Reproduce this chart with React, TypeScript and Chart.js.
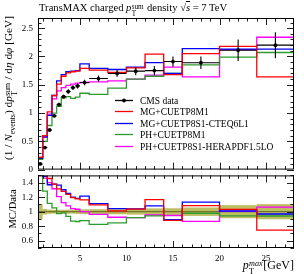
import React, { useEffect, useRef } from "react";
import { Chart, registerables } from "chart.js";

Chart.register(...registerables);

// ---------------- data ----------------
const binEdges = [0.5, 1, 1.5, 2, 2.5, 3, 3.5, 4, 4.5, 5, 6, 8, 10, 12, 14, 16, 20, 24, 28];
const cmsData = [0.10, 0.39, 0.70, 0.95, 1.15, 1.29, 1.38, 1.45, 1.48, 1.54, 1.61, 1.70, 1.74, 1.75, 1.91, 1.89, 2.11, 2.20];
const cmsErr = [0.01, 0.015, 0.02, 0.025, 0.03, 0.035, 0.04, 0.04, 0.045, 0.05, 0.055, 0.06, 0.07, 0.08, 0.09, 0.11, 0.19, 0.23];
const mgCUETP8M1 = [0.22, 0.60, 1.02, 1.31, 1.51, 1.65, 1.71, 1.73, 1.74, 1.79, 1.76, 1.72, 1.80, 2.04, 1.68, 2.05, 2.18, 1.64];
const mgCUETP8S1 = [0.20, 0.58, 0.96, 1.31, 1.57, 1.68, 1.73, 1.74, 1.75, 1.87, 1.79, 1.77, 1.81, 1.89, 1.70, 2.14, 2.13, 2.13];
const phCUETP8M1 = [0.18, 0.50, 0.78, 1.00, 1.12, 1.27, 1.29, 1.26, 1.28, 1.35, 1.33, 1.44, 1.60, 1.65, 1.70, 1.85, 1.99, 2.07];
const phCUETP8S1 = [0.21, 0.57, 0.98, 1.25, 1.39, 1.45, 1.49, 1.51, 1.53, 1.54, 1.55, 1.57, 1.60, 1.67, 1.81, 1.64, 2.12, 2.34];

const legendLabels = ["CMS data", "MG+CUETP8M1", "MG+CUETP8S1-CTEQ6L1", "PH+CUETP8M1", "PH+CUETP8S1-HERAPDF1.5LO"];
const xTickLabels = [5, 10, 15, 20, 25];
const mainYTickLabels = [0, 0.5, 1, 1.5, 2, 2.5];
const ratioYTickLabels = [0.6, 0.8, 1, 1.2, 1.4];

// ---------------- styles ----------------
const seriesColors = ["#000000", "#ff0000", "#0000ff", "#2e9a2e", "#ff00ff"];
const FONT = '"Liberation Serif", "DejaVu Serif", serif';
const X_MIN = 0.5, X_MAX = 28;
const Y_MAX = 2.68;

const mcSeries = [mgCUETP8M1, mgCUETP8S1, phCUETP8M1, phCUETP8S1];

function stepPoints(values: number[]) {
  const pts = values.map((v, i) => ({ x: binEdges[i], y: v }));
  pts.push({ x: binEdges[binEdges.length - 1], y: values[values.length - 1] });
  return pts;
}

function range(a: number, b: number, step: number) {
  const out: number[] = [];
  for (let v = a; v <= b + 1e-9; v += step) out.push(Math.round(v * 1000) / 1000);
  return out;
}

const frameTicksPlugin = {
  id: "frameTicks",
  afterDatasetsDraw(chart: any, _args: any, opts: any) {
    const { ctx, chartArea: a, scales } = chart;
    const xs = scales.x, ys = scales.y;
    ctx.save();
    ctx.strokeStyle = "#222";
    ctx.lineWidth = 1;
    const vx = (v: number, len: number) => {
      const px = Math.round(xs.getPixelForValue(v)) + 0.5;
      ctx.beginPath();
      ctx.moveTo(px, a.bottom); ctx.lineTo(px, a.bottom - len);
      ctx.moveTo(px, a.top); ctx.lineTo(px, a.top + len);
      ctx.stroke();
    };
    const vy = (v: number, len: number) => {
      const py = Math.round(ys.getPixelForValue(v)) + 0.5;
      ctx.beginPath();
      ctx.moveTo(a.left, py); ctx.lineTo(a.left + len, py);
      ctx.moveTo(a.right, py); ctx.lineTo(a.right - len, py);
      ctx.stroke();
    };
    opts.xMinor.forEach((v: number) => vx(v, 3.5));
    opts.xMajor.forEach((v: number) => vx(v, 7));
    opts.yMinor.forEach((v: number) => vy(v, 3.5));
    opts.yMajor.forEach((v: number) => vy(v, 7));
    ctx.strokeStyle = "#000";
    ctx.strokeRect(a.left + 0.5, a.top + 0.5, a.right - a.left - 1, a.bottom - a.top - 1);
    ctx.restore();
  },
};

const dataPointsPlugin = {
  id: "dataPoints",
  afterDatasetsDraw(chart: any) {
    const { ctx, scales } = chart;
    const xs = scales.x, ys = scales.y;
    ctx.save();
    ctx.strokeStyle = "#000";
    ctx.fillStyle = "#000";
    ctx.lineWidth = 1.1;
    cmsData.forEach((v, i) => {
      const x0 = xs.getPixelForValue(binEdges[i]);
      const x1 = xs.getPixelForValue(binEdges[i + 1]);
      const xc = xs.getPixelForValue((binEdges[i] + binEdges[i + 1]) / 2);
      const y = ys.getPixelForValue(v);
      const yl = ys.getPixelForValue(v - cmsErr[i]);
      const yh = ys.getPixelForValue(v + cmsErr[i]);
      ctx.beginPath();
      ctx.moveTo(x0, y); ctx.lineTo(x1, y);
      ctx.moveTo(xc, yl); ctx.lineTo(xc, yh);
      ctx.stroke();
      ctx.beginPath();
      ctx.arc(xc, y, 1.9, 0, Math.PI * 2);
      ctx.fill();
    });
    ctx.restore();
  },
};

// legend drawn inside the main canvas
const innerLegendPlugin = {
  id: "innerLegend",
  afterDraw(chart: any) {
    const { ctx } = chart;
    const x0 = 115, x1 = 133, tx = 140, y0 = 99.5, dy = 11.5;
    ctx.save();
    ctx.font = `9.5px ${FONT}`;
    ctx.textBaseline = "middle";
    ctx.textAlign = "left";
    legendLabels.forEach((lab, i) => {
      const y = Math.round(y0 + i * dy) + 0.5;
      ctx.strokeStyle = seriesColors[i];
      ctx.lineWidth = 1.3;
      ctx.beginPath();
      ctx.moveTo(x0, y);
      ctx.lineTo(x1, y);
      ctx.stroke();
      if (i === 0) {
        ctx.fillStyle = "#000";
        ctx.beginPath();
        ctx.arc((x0 + x1) / 2, y, 1.9, 0, Math.PI * 2);
        ctx.fill();
      }
      ctx.fillStyle = "#000";
      ctx.fillText(lab, tx, y + 0.5);
    });
    ctx.restore();
  },
};

const ratioBandPlugin = {
  id: "ratioBand",
  beforeDatasetsDraw(chart: any) {
    const { ctx, scales, chartArea: a } = chart;
    const xs = scales.x, ys = scales.y;
    ctx.save();
    ctx.beginPath();
    ctx.rect(a.left, a.top, a.right - a.left, a.bottom - a.top);
    ctx.clip();
    ctx.fillStyle = "rgba(178,178,70,0.85)";
    cmsData.forEach((v, i) => {
      const x0 = xs.getPixelForValue(binEdges[i]);
      const x1 = xs.getPixelForValue(binEdges[i + 1]);
      const rel = cmsErr[i] / v;
      const yh = ys.getPixelForValue(1 + rel);
      const yl = ys.getPixelForValue(1 - rel);
      ctx.fillRect(x0, yh, x1 - x0, yl - yh);
    });
    ctx.strokeStyle = "rgba(90,90,20,0.9)";
    ctx.lineWidth = 1;
    const y1 = ys.getPixelForValue(1);
    ctx.beginPath();
    ctx.moveTo(a.left, y1); ctx.lineTo(a.right, y1);
    ctx.stroke();
    ctx.restore();
  },
};

const tickFont = { family: FONT, size: 9 };

function SubSup({ sub, sup, italicSup }: { sub: string; sup: string; italicSup?: boolean }) {
  return (
    <span
      style={{
        display: "inline-flex",
        flexDirection: "column",
        verticalAlign: "0.32em",
        fontSize: "0.68em",
        lineHeight: "0.95em",
        marginLeft: "0.04em",
        marginRight: "0.08em",
      }}
    >
      <span style={{ fontStyle: italicSup ? "italic" : "normal" }}>{sup}</span>
      <span>{sub}</span>
    </span>
  );
}

export default function App() {
  const mainRef = useRef<HTMLCanvasElement>(null);
  const ratioRef = useRef<HTMLCanvasElement>(null);

  useEffect(() => {
    const xMinor = range(1, 27, 1).filter((v) => !xTickLabels.includes(v));
    const mainChart = new Chart(mainRef.current as HTMLCanvasElement, {
      type: "line",
      data: {
        datasets: mcSeries.map((vals, k) => ({
          label: legendLabels[k + 1],
          data: stepPoints(vals),
          borderColor: seriesColors[k + 1],
          borderWidth: 1.3,
          pointRadius: 0,
          stepped: "before" as const,
          fill: false,
        })),
      },
      options: {
        animation: false,
        responsive: false,
        layout: { padding: { top: 18, right: 10, bottom: 8, left: 0 } },
        plugins: {
          legend: { display: false },
          tooltip: { enabled: false },
          frameTicks: {
            xMinor,
            xMajor: xTickLabels,
            yMinor: range(0, 2.6, 0.1).filter((v) => !mainYTickLabels.includes(v)),
            yMajor: mainYTickLabels,
          },
        } as any,
        scales: {
          x: { type: "linear", min: X_MIN, max: X_MAX, display: false },
          y: {
            type: "linear",
            min: 0,
            max: Y_MAX,
            afterFit: (s: any) => { s.width = 38; },
            afterBuildTicks: (s: any) => { s.ticks = mainYTickLabels.map((v) => ({ value: v })); },
            ticks: { font: tickFont, color: "#000", padding: 5, callback: (v: any) => String(v) },
            grid: { display: false, drawTicks: false },
            border: { display: false },
          },
        },
      },
      plugins: [frameTicksPlugin, dataPointsPlugin, innerLegendPlugin],
    } as any);

    const ratioChart = new Chart(ratioRef.current as HTMLCanvasElement, {
      type: "line",
      data: {
        datasets: mcSeries.map((vals, k) => ({
          label: legendLabels[k + 1],
          data: stepPoints(vals.map((v, i) => v / cmsData[i])),
          borderColor: seriesColors[k + 1],
          borderWidth: 1.3,
          pointRadius: 0,
          stepped: "before" as const,
          fill: false,
        })),
      },
      options: {
        animation: false,
        responsive: false,
        layout: { padding: { top: 7, right: 10, bottom: 0, left: 0 } },
        plugins: {
          legend: { display: false },
          tooltip: { enabled: false },
          frameTicks: {
            xMinor,
            xMajor: xTickLabels,
            yMinor: range(0.5, 1.5, 0.1).filter((v) => !ratioYTickLabels.includes(v)),
            yMajor: ratioYTickLabels,
          },
        } as any,
        scales: {
          x: {
            type: "linear",
            min: X_MIN,
            max: X_MAX,
            afterFit: (s: any) => { s.height = 26; },
            afterBuildTicks: (s: any) => { s.ticks = xTickLabels.map((v) => ({ value: v })); },
            ticks: { font: tickFont, color: "#000", padding: 5, maxRotation: 0, callback: (v: any) => String(v) },
            grid: { display: false, drawTicks: false },
            border: { display: false },
          },
          y: {
            type: "linear",
            min: 0.5,
            max: 1.5,
            afterFit: (s: any) => { s.width = 38; },
            afterBuildTicks: (s: any) => { s.ticks = ratioYTickLabels.map((v) => ({ value: v })); },
            ticks: { font: tickFont, color: "#000", padding: 5, callback: (v: any) => String(v) },
            grid: { display: false, drawTicks: false },
            border: { display: false },
          },
        },
      },
      plugins: [ratioBandPlugin, frameTicksPlugin],
    } as any);

    return () => {
      mainChart.destroy();
      ratioChart.destroy();
    };
  }, []);

  const abs: React.CSSProperties = { position: "absolute", whiteSpace: "nowrap", color: "#000" };

  return (
    <div style={{ position: "absolute", left: 0, top: 0, width: 304, height: 274, background: "#fff", fontFamily: FONT, overflow: "hidden" }}>
      <canvas ref={mainRef} width={304} height={180} style={{ position: "absolute", left: 0, top: 0, width: 304, height: 180 }} />
      <canvas ref={ratioRef} width={304} height={109} style={{ position: "absolute", left: 0, top: 165, width: 304, height: 109 }} />

      {/* title */}
      <div style={{ ...abs, left: 39, top: 0, fontSize: 10.6, lineHeight: "16px" }}>
        TransMAX charged <i>p</i>
        <SubSup sub="T" sup="sum" /> density √<span style={{ textDecoration: "overline", fontStyle: "italic" }}>s</span> = 7 TeV
      </div>

      {/* y title main */}
      <div style={{ ...abs, left: 10, top: 88, fontSize: 11.3, transform: "translate(-50%, -50%) rotate(-90deg)" }}>
        (1 / <i>N</i><sub style={{ fontSize: "0.7em" }}>events</sub>) d<i>p</i>
        <SubSup sub="T" sup="sum" /> / d<i>η</i> d<i>φ</i> [GeV]
      </div>

      {/* y title ratio */}
      <div style={{ ...abs, left: 12, top: 209, fontSize: 10.5, transform: "translate(-50%, -50%) rotate(-90deg)" }}>
        MC/Data
      </div>

      {/* x title */}
      <div style={{ ...abs, right: 10, top: 257, fontSize: 12, lineHeight: "16px" }}>
        <i>p</i>
        <SubSup sub="T" sup="max" italicSup />[GeV]
      </div>
    </div>
  );
}
